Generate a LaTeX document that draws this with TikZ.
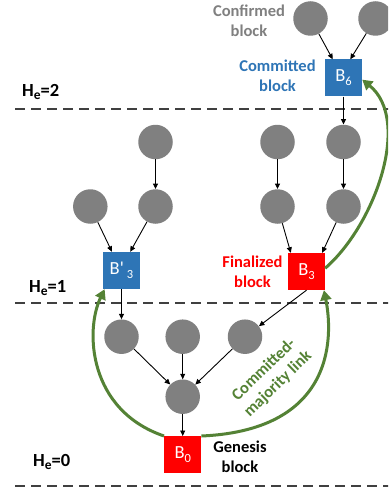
\documentclass[tikz,border=0pt]{standalone}
\usepackage{fontspec}
\setmainfont{Carlito}
\newfontfamily\boxfont{Carlito}[Ligatures=ResetAll]
\usetikzlibrary{arrows.meta}
\definecolor{cblue}{HTML}{2E75B6}
\definecolor{cred}{HTML}{FF0000}
\definecolor{cgray}{HTML}{808080}
\definecolor{cgreen}{HTML}{548235}
\newcommand\mysub[1]{\raisebox{-4pt}{\fontsize{12.5}{12.5}\selectfont #1}}
\newcommand\hsub[1]{\raisebox{-3.5pt}{\fontsize{13.5}{13.5}\selectfont #1}}
\begin{document}
\begin{tikzpicture}[x=1pt,y=-1pt,
  blk/.style={circle, fill=cgray, minimum size=34.5pt, inner sep=0pt},
  bx/.style={rectangle, minimum size=37pt, inner sep=0pt, text=white, font=\boxfont\fontsize{18.5}{20}\selectfont},
  lab/.style={font=\bfseries\fontsize{16.5}{20}\selectfont, align=center, inner sep=0pt},
  hlab/.style={font=\bfseries\fontsize{18.5}{20}\selectfont, anchor=west, inner sep=0pt},
  arr/.style={-{Triangle[length=5.5pt,width=5pt]}, line width=0.9pt},
  garr/.style={-{Triangle[length=10pt,width=11pt]}, line width=3pt, draw=cgreen},
  sep/.style={dash pattern=on 10pt off 6pt, line width=1.2pt, draw=black!75}]
\clip (0,0) rectangle (388,492);
\fill[white] (0,0) rectangle (388,492);
% separators
\coordinate (s2a) at (15,109); \coordinate (s2b) at (390,109);
\coordinate (s1a) at (15,303); \coordinate (s1b) at (390,303);
\coordinate (s0a) at (15,486); \coordinate (s0b) at (390,486);
\draw[sep] (s2a) -- (s2b);
\draw[sep] (s1a) -- (s1b);
\draw[sep] (s0a) -- (s0b);
% height labels
\node[hlab] (h2) at (22,92) {H\hsub{e}=2};
\node[hlab] (h1) at (29,288) {H\hsub{e}=1};
\node[hlab] (h0) at (33,462) {H\hsub{e}=0};
% blocks
\node[blk] (c1) at (310.5,18.5) {};
\node[blk] (c2) at (375.5,18.5) {};
\node[bx, fill=cblue] (B6) at (343.5,78) {B\mysub{6}};
\node[blk] (r2a) at (155.5,142) {};
\node[blk] (r2b) at (277.5,142) {};
\node[blk] (r2c) at (343.5,142) {};
\node[blk] (r3a) at (90.3,206.5) {};
\node[blk] (r3b) at (155.5,206.5) {};
\node[blk] (r3c) at (277.5,206.5) {};
\node[blk] (r3d) at (343.5,206.5) {};
\node[bx, fill=cblue] (Bp3) at (121.5,270.5) {B'\,\mysub{3}};
\node[bx, fill=cred] (B3) at (306.5,271.5) {B\mysub{3}};
\node[blk] (r4a) at (121.5,336.7) {};
\node[blk] (r4b) at (182.7,336.7) {};
\node[blk] (r4c) at (245,336.7) {};
\node[blk] (r5) at (182.7,396.7) {};
\node[bx, fill=cred] (B0) at (182.7,454.7) {B\mysub{0}};
% texts
\node[lab, text=cgray] (tconf) at (249,21) {Confirmed\\block};
\node[lab, text=cblue] (tcomm) at (277.5,76) {Committed\\block};
\node[lab, text=cred] (tfin) at (252.5,272) {Finalized\\block};
\node[lab, text=black] (tgen) at (240,457) {Genesis\\block};
\node[lab, text=cgreen, rotate=44] (tlink) at (271,377) {Committed-\\majority link};
% black arrows
\draw[arr] (c1) -- (B6.120);
\draw[arr] (c2) -- (B6.70);
\draw[arr] (B6) -- (r2c);
\draw[arr] (r2a) -- (r3b);
\draw[arr] (r2b) -- (r3c);
\draw[arr] (r2c) -- (r3d);
\draw[arr] (r3a) -- (Bp3.117);
\draw[arr] (r3b) -- (Bp3.65);
\draw[arr] (r3c) -- (B3.130);
\draw[arr] (r3d) -- (B3.50);
\draw[arr] (Bp3) -- (r4a);
\draw[arr] (B3.south) -- (r4c);
\draw[arr] (r4a) -- (r5);
\draw[arr] (r4b) -- (r5);
\draw[arr] (r4c) -- (r5);
\draw[arr] (r5) -- (B0);
% green links
\draw[garr] (B0.north west) .. controls (88,410) and (85,330) .. (Bp3.-132);
\draw[garr] (B0.north east) .. controls (340,430) and (332,330) .. (B3.-47);
\draw[garr] (B3.10) .. controls (375,225) and (412,120) .. (B6.-5);
\end{tikzpicture}
\end{document}
